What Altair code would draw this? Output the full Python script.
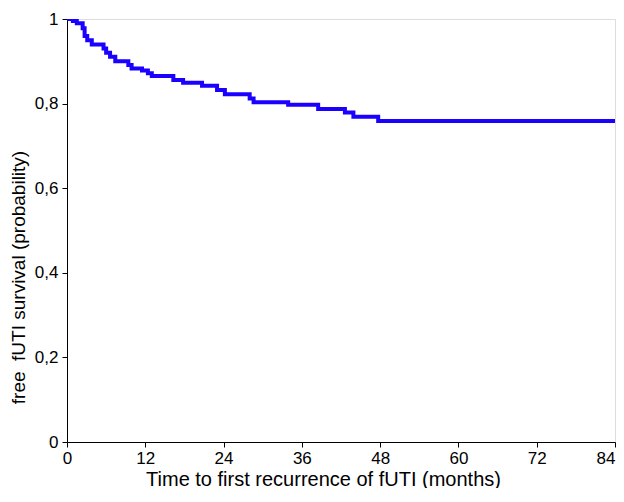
import altair as alt
import pandas as pd

months = [0, 0.9, 1.5, 2.4, 2.7, 3.1, 3.8, 5.6, 6.0, 6.6, 7.4, 9.4, 9.9, 11.5, 12.4, 13.0,
          16.3, 17.8, 20.7, 23.0, 24.2, 28.0, 28.6, 33.9, 38.5, 42.6, 43.9, 47.7, 84]
survival = [1.0, 0.995, 0.99, 0.978, 0.96, 0.95, 0.94, 0.93, 0.92, 0.911, 0.9, 0.891, 0.883,
            0.878, 0.872, 0.865, 0.856, 0.849, 0.842, 0.832, 0.822, 0.812, 0.803, 0.797,
            0.787, 0.779, 0.769, 0.759, 0.759]
x_ticks = [0, 12, 24, 36, 48, 60, 72, 84]
y_ticks = [0, 0.2, 0.4, 0.6, 0.8, 1.0]

df = pd.DataFrame({"t": months, "s": survival})

font = "Liberation Sans"

chart = alt.Chart(df).mark_line(
    interpolate="step-after", color="#1a00ff", strokeWidth=4, clip=True
).encode(
    x=alt.X("t:Q", scale=alt.Scale(domain=[0, 84], nice=False, zero=False),
            axis=alt.Axis(values=x_ticks, title="Time to first recurrence of fUTI (months)",
                          grid=False, domainColor="black", tickColor="black", tickSize=5,
                          labelColor="black", labelFontSize=17, labelFont=font,
                          labelPadding=3,
                          labelAlign={"condition": {"test": "datum.value >= 84", "value": "right"},
                                      "value": "center"},
                          titleFont=font, titleFontSize=20,
                          titleFontWeight="normal", titleColor="black",
                          titleX=256, titleY=43, titleBaseline="alphabetic")),
    y=alt.Y("s:Q", scale=alt.Scale(domain=[0, 1], nice=False),
            axis=alt.Axis(values=y_ticks, title="free \u00a0fUTI survival (probability)",
                          labelExpr="replace(format(datum.value, '.1~f'), '.', ',')",
                          grid=False, domainColor="black", tickColor="black", tickSize=5,
                          labelColor="black", labelFontSize=17, labelFont=font,
                          labelPadding=4, titleFont=font, titleFontSize=19,
                          titleFontWeight="normal", titleColor="black",
                          titleX=-43, titleY=258, titleBaseline="alphabetic")),
).properties(
    width=548, height=423, autosize="none",
    padding={"left": 59, "top": 11, "right": 1, "bottom": 46}
).configure_view(stroke=None).configure(background="white")

chart.save("out.html", embed_options={"renderer": "svg", "actions": False})
